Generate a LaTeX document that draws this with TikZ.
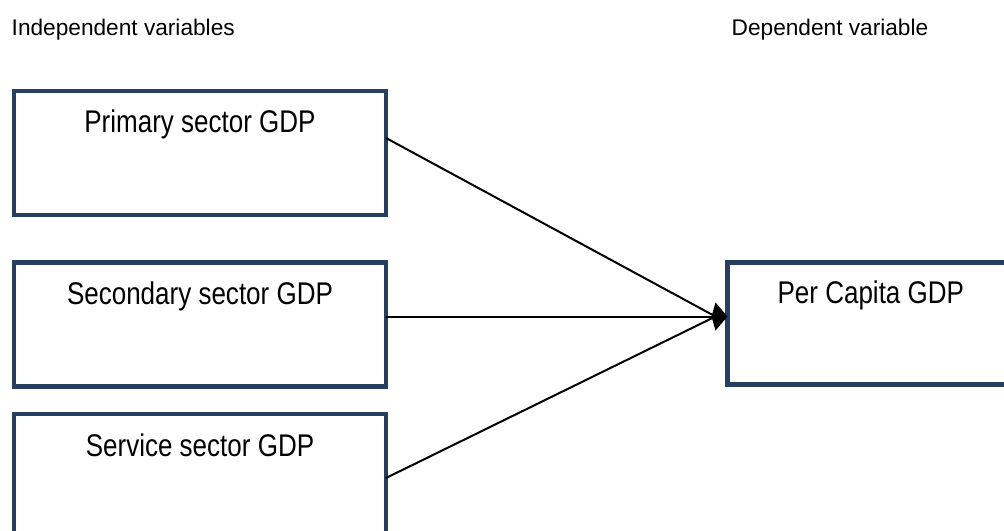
\documentclass[tikz,border=0pt]{standalone}
\usepackage{fontspec}
\setmainfont{Liberation Sans}
\newfontfamily\boxfont[FakeStretch=0.83]{Liberation Sans}
\usepackage{xcolor}
\usetikzlibrary{arrows.meta}
\usetikzlibrary{positioning}
\definecolor{boxblue}{RGB}{38,62,95}

\begin{document}
\begin{tikzpicture}[x=0.75pt, y=-0.75pt,
    sectorbox/.style={draw=boxblue, line width=3.3pt, fill=white, inner sep=0pt, outer sep=0pt,
        anchor=north west, minimum width=279pt, text height=31.5pt, text depth=61.5pt,
        font=\boxfont\fontsize{23.5}{28}\selectfont},
    header/.style={anchor=base west, font=\fontsize{17}{20}\selectfont},
    link/.style={line width=1.5pt}]
    \useasboundingbox (0,0) rectangle (1004,531);

    % Encabezados
    \node[header] (indep) at (7,36) {Independent variables};
    \node[header] (dep) at (727,36) {Dependent variable};

    % Variables independientes
    \foreach \name/\y/\txt in {primary/91/Primary sector GDP, secondary/262.5/Secondary sector GDP, service/414/Service sector GDP}
        \node[sectorbox] (\name) at (14,\y) {\txt};

    % Variable dependiente
    \node[sectorbox, minimum width=215pt, text height=30.5pt, text depth=61pt] (percapita) at (727.5,262.5) {Per Capita GDP};

    % Flechas
    \coordinate (tip) at ([yshift=-40.5pt]percapita.north west);
    \draw[link] ([yshift=-35.25pt]primary.north east) -- ([xshift=-9pt]tip);
    \draw[link] ([yshift=-48pt]service.north east) -- ([xshift=-9pt]tip);
    \draw[link, -{Kite[length=12pt, width=21pt, inset=3pt]}] ([yshift=-40.5pt]secondary.north east) -- (tip);
\end{tikzpicture}
\end{document}
